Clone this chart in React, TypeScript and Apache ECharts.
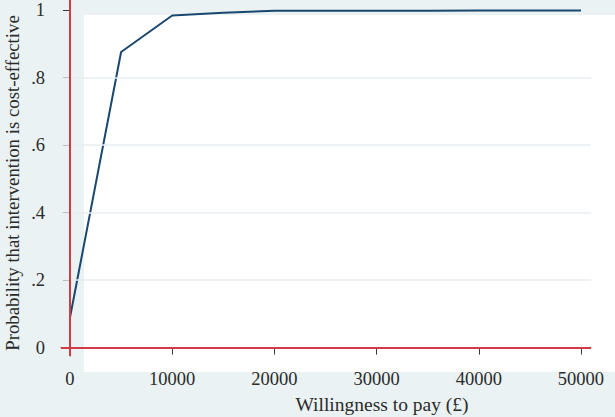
import React, { useEffect, useRef } from "react";
import * as echarts from "echarts";

const wtp = [0, 5000, 10000, 15000, 20000, 25000, 30000, 35000, 40000, 45000, 50000];
const probCE = [0.089, 0.876, 0.984, 0.992, 0.998, 0.998, 0.998, 0.998, 0.999, 0.999, 0.999];
const xTicks = [0, 10000, 20000, 30000, 40000, 50000];
const yTicks = [0, 0.2, 0.4, 0.6, 0.8, 1];
const gridValues = [0.2, 0.4, 0.6, 0.8];
const xTitle = "Willingness to pay (£)";
const yTitle = "Probability that intervention is cost-effective";

const FONT = "Liberation Serif";

export default function App() {
  const ref = useRef<HTMLDivElement>(null);
  useEffect(() => {
    if (!ref.current) return;
    const chart = echarts.init(ref.current, null, { renderer: "svg" });
    const fmtY = (v: number) => {
      if (Math.abs(v) < 1e-9) return "0";
      if (Math.abs(v - 1) < 1e-9) return "1";
      return String(Math.round(v * 10) / 10).replace(/^0/, "");
    };
    chart.setOption({
      animation: false,
      backgroundColor: "#eaf2f3",
      textStyle: { fontFamily: FONT },
      graphic: [
        {
          type: "rect",
          z: -10,
          silent: true,
          shape: { x: 84, y: 15, width: 531, height: 357 },
          style: { fill: "#ffffff" },
        },
        {
          type: "text",
          x: 382,
          y: 404,
          style: {
            text: xTitle,
            fontFamily: FONT,
            fontSize: 19.5,
            fill: "#2b2b2b",
            align: "center",
            verticalAlign: "middle",
          },
        },
        {
          type: "text",
          x: 12,
          y: 183,
          rotation: Math.PI / 2,
          style: {
            text: yTitle,
            fontFamily: FONT,
            fontSize: 18.8,
            fill: "#2b2b2b",
            align: "center",
            verticalAlign: "middle",
          },
        },
      ],
      grid: { left: 61, right: 24, top: 0, bottom: 61, containLabel: false },
      xAxis: {
        type: "value",
        min: -880,
        max: 50980,
        axisLine: { show: true, lineStyle: { color: "#3a3a3a", width: 1 } },
        axisTick: { show: true, length: 7, customValues: xTicks, lineStyle: { color: "#3a3a3a" } },
        axisLabel: {
          customValues: xTicks,
          margin: 13,
          fontSize: 18.5,
          fontFamily: FONT,
          color: "#2b2b2b",
          formatter: (v: number) => String(v),
        },
        splitLine: { show: false },
      },
      yAxis: {
        type: "value",
        min: -0.025,
        max: 1.03,
        axisLine: { show: true, lineStyle: { color: "#3a3a3a", width: 1 } },
        axisTick: { show: true, length: 7, customValues: yTicks, lineStyle: { color: "#3a3a3a" } },
        axisLabel: {
          customValues: yTicks,
          margin: 16,
          fontSize: 18.5,
          fontFamily: FONT,
          color: "#2b2b2b",
          formatter: fmtY,
        },
        splitLine: { show: false },
      },
      series: [
        {
          type: "line",
          name: "grid",
          data: [],
          silent: true,
          markLine: {
            silent: true,
            symbol: "none",
            label: { show: false },
            lineStyle: { color: "#e6eef2", width: 1.5, type: "solid" },
            data: gridValues.map((v) => ({ yAxis: v })),
          },
          z: 1,
        },
        {
          type: "line",
          name: "ref",
          data: [],
          silent: true,
          markLine: {
            silent: true,
            symbol: "none",
            label: { show: false },
            lineStyle: { color: "#d23a46", width: 2, type: "solid" },
            data: [{ xAxis: 0 }, { yAxis: 0 }],
          },
          z: 3,
        },
        {
          type: "line",
          name: "Probability",
          data: wtp.map((x, i) => [x, probCE[i]]),
          showSymbol: false,
          symbol: "none",
          lineStyle: { color: "#1a476f", width: 2 },
          z: 4,
        },
      ],
    });
    return () => chart.dispose();
  }, []);
  return (
    <div
      ref={ref}
      style={{ position: "fixed", left: 0, top: 0, width: 615, height: 417 }}
    />
  );
}
